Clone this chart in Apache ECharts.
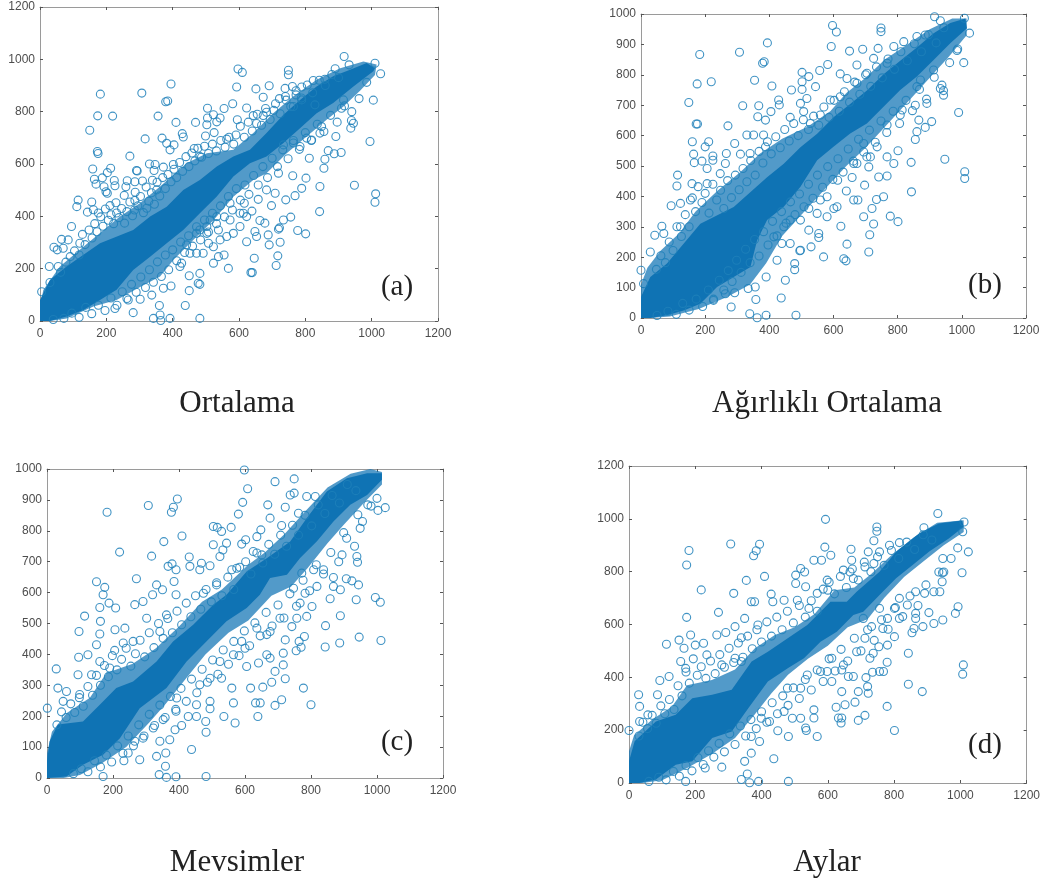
<!DOCTYPE html>
<html><head><meta charset="utf-8">
<style>html,body{margin:0;padding:0;background:#fff}#c{width:1043px;height:883px}#c canvas{filter:blur(0.4px)}</style>
<script src="https://cdn.jsdelivr.net/npm/echarts@6/dist/echarts.min.js"></script>
</head><body><div id="c"></div>
<script>
const captions = ["Ortalama","Ağırlıklı Ortalama","Mevsimler","Aylar"];
const letters = ["(a)","(b)","(c)","(d)"];
const xTicksMax = 1200, xStep = 200;
const yMaxes = [1200,1000,1000,1200];
const ySteps = [200,100,100,200];

const pointsA = [[182,867],[307,871],[395,906],[379,838],[385,841],[597,963],[610,950],[749,958],[749,941],[890,964],[917,1011],[932,979],[1010,985],[1027,945],[593,894],[651,887],[691,899],[739,889],[174,784],[219,783],[356,783],[410,759],[469,759],[150,729],[317,696],[368,699],[429,716],[432,703],[173,648],[175,640],[271,630],[159,581],[213,584],[203,567],[291,575],[293,573],[164,542],[188,547],[224,537],[169,523],[226,517],[193,513],[199,494],[203,488],[263,536],[286,532],[309,535],[339,538],[259,513],[115,462],[111,437],[156,455],[161,425],[176,413],[143,416],[211,441],[231,413],[254,480],[286,461],[285,424],[322,431],[352,501],[330,600],[347,598],[372,588],[402,598],[344,575],[382,679],[392,654],[404,673],[465,659],[482,628],[505,813],[505,776],[503,750],[523,788],[533,761],[555,812],[581,830],[623,814],[543,776],[499,707],[525,720],[563,695],[595,769],[591,711],[643,785],[653,755],[673,785],[673,855],[683,798],[705,805],[722,850],[742,844],[761,896],[789,894],[824,919],[859,924],[772,864],[789,845],[764,820],[95,361],[65,312],[42,282],[52,272],[70,278],[30,147],[5,112],[28,208],[55,208],[85,310],[120,297],
[1005,844],[939,766],[945,756],[937,737],[995,686],[892,705],[908,644],[887,639],[859,618],[856,584],[869,651],[948,519],[844,514],[1012,486],[1010,454],[843,418],[756,397],[777,346],[801,333],[734,386],[722,356],[678,374],[663,384],[639,420],[616,450],[658,465],[683,501],[709,488],[741,463],[769,479],[789,507],[802,546],[762,555],[719,565],[698,441],[688,329],[691,291],[724,301],[623,303],[646,240],[717,249],[712,212],[636,185],[640,185],[568,201],[555,252],[523,221],[538,246],[482,182],[477,144],[482,140],[450,173],[450,116],[438,59],[482,10],[392,10],[342,10],[360,59],[362,23],[364,2],[281,32],[395,134],[372,125],[337,99],[302,83],[266,80],[226,48],[583,335],[563,323],[538,348],[543,310],[503,335],[472,259],[452,259],[427,221],[422,208],[492,259],[523,284],[508,297],[603,361],[648,342],[653,323],[719,351],[442,291],[472,335],[513,386],[533,399],[573,386],[603,412],[623,399],[573,450],[613,412],[503,361],[482,348],[829,826],[849,743],[804,699],[819,692],[784,667],[812,622],[734,673],[764,680],[844,718],[909,813],[915,845]];

const pointsB = [[183,867],[307,874],[394,905],[379,838],[384,843],[597,962],[609,941],[748,954],[748,942],[593,893],[650,878],[691,884],[739,887],[886,931],[915,991],[933,978],[1008,986],[1024,937],[1006,840],[987,885],[175,770],[219,777],[354,782],[408,763],[469,750],[502,752],[502,808],[502,777],[523,794],[544,761],[557,814],[582,834],[621,803],[149,709],[317,698],[367,698],[429,717],[431,701],[172,638],[176,638],[271,632],[160,580],[211,580],[292,574],[200,563],[164,539],[166,511],[224,533],[224,519],[190,516],[206,492],[266,541],[263,508],[310,539],[340,541],[114,470],[112,434],[159,442],[206,442],[247,475],[94,369],[65,302],[43,272],[71,278],[123,300],[29,217],[0,157],[8,113],[123,377],[154,388],[330,602],[351,602],[382,602],[388,563],[364,662],[388,651],[405,679],[465,660],[517,722],[528,640],[559,668],[497,706],[507,679],[590,717],[621,728],[642,788],[673,832],[673,772],[704,805],[725,854],[767,838],[788,893],[819,909],[860,926],
[943,733],[933,755],[943,748],[990,676],[891,706],[906,646],[886,627],[860,613],[855,587],[866,651],[947,522],[842,512],[1009,481],[1009,459],[843,415],[756,399],[777,335],[801,317],[734,390],[720,360],[676,388],[663,388],[640,418],[613,453],[658,462],[673,508],[710,497],[741,464],[767,467],[788,508],[801,550],[767,530],[715,530],[697,437],[694,333],[713,274],[725,309],[623,302],[642,243],[710,217],[632,195],[639,188],[569,201],[554,265],[530,234],[495,221],[479,179],[479,159],[450,124],[437,66],[483,9],[390,9],[339,14],[358,61],[362,1],[281,36],[390,135],[356,102],[334,97],[292,83],[263,80],[226,58],[601,360],[580,333],[554,278],[523,289],[497,223],[465,245],[439,245],[424,190],[414,267],[445,300],[465,322],[497,322],[523,360],[549,344],[580,399],[559,388],[611,366],[855,700],[814,684],[808,668],[767,635],[736,563],[694,574],[663,508],[704,530],[860,761],[912,816],[871,783]];

const pointsC = [[598,997],[608,936],[691,959],[749,968],[593,892],[669,884],[580,854],[383,876],[395,903],[377,860],[307,882],[182,860],[354,765],[409,783],[220,731],[317,718],[150,635],[175,617],[170,593],[271,645],[504,814],[504,755],[516,811],[529,798],[558,811],[544,760],[524,717],[533,738],[431,715],[433,685],[367,685],[379,693],[391,674],[468,695],[463,674],[494,687],[560,674],[575,679],[602,771],[590,757],[636,781],[648,803],[676,841],[711,817],[722,876],[737,916],[749,922],[787,911],[813,911],[762,857],[625,733],[651,722],[332,625],[350,609],[320,593],[385,636],[391,593],[291,571],[266,561],[188,566],[160,552],[208,550],[162,507],[114,524],[97,474],[124,399],[96,391],[206,480],[236,485],[160,466],[150,431],[205,413],[231,437],[28,353],[33,291],[1,226],[59,280],[94,334],[135,334],[49,248],[99,270],[160,377],[190,356],[261,442],[302,517],[342,474],[362,528],[474,598],[514,625],
[1025,875],[1003,866],[972,884],[949,808],[942,852],[939,717],[941,698],[899,794],[894,722],[907,645],[924,638],[944,625],[937,577],[995,584],[1010,569],[889,525],[946,456],[1012,445],[887,437],[843,424],[844,493],[858,580],[868,620],[868,649],[889,609],[838,674],[808,674],[772,663],[747,614],[782,598],[818,620],[803,555],[767,566],[787,523],[757,517],[742,490],[780,458],[764,442],[770,423],[755,412],[722,447],[716,404],[716,366],[722,321],[691,345],[681,310],[777,291],[800,237],[711,253],[691,235],[639,199],[632,243],[646,243],[617,291],[654,294],[641,372],[666,399],[676,388],[570,178],[536,199],[565,243],[560,291],[529,323],[494,224],[481,183],[482,148],[438,92],[482,5],[391,4],[362,2],[340,11],[359,38],[281,59],[233,56],[170,5],[360,81],[332,70],[342,119],[372,124],[408,170],[388,156],[352,189],[391,216],[428,199],[453,199],[494,248],[463,302],[453,237],[393,259],[322,162],[291,129],[266,119],[246,81],[600,420],[590,442],[605,361],[565,399],[524,377],[494,323],[636,485],[666,464],[706,517],[676,474]];

const pointsD = [[181,880],[174,825],[307,905],[394,904],[384,879],[376,860],[593,998],[591,893],[609,862],[748,969],[748,953],[739,917],[670,885],[932,1020],[890,966],[1011,988],[1007,951],[1024,875],[1005,796],[947,850],[950,799],[935,799],[945,762],[938,724],[993,667],[985,642],[947,617],[920,604],[905,645],[887,592],[892,718],[865,724],[865,642],[865,623],[860,585],[854,569],[843,491],[1009,447],[1007,412],[885,346],[843,374],[779,290],[801,199],[779,457],[756,422],[768,422],[735,419],[715,399],[720,365],[722,340],[692,346],[677,403],[662,403],[642,346],[682,306],[652,296],[625,287],[642,246],[632,246],[640,227],[712,256],[692,237],[568,176],[558,277],[558,246],[533,208],[535,199],[481,176],[449,198],[424,233],[437,92],[481,6],[391,6],[364,1],[339,13],[357,34],[280,60],[230,57],[171,6],[349,82],[369,113],[394,157],[369,176],[399,245],[468,271],[493,245],[518,245],[518,359],[478,359],[538,409],[578,422],[598,422],[612,384],[612,472],[647,447],[642,428],[687,497],[712,548],[727,472],[737,491],[754,516],[780,522],[801,554],[766,585],[780,623],[816,623],[801,661],[840,674],[816,699],[756,661],[732,592],[707,623],
[174,627],[218,731],[354,767],[409,782],[316,718],[270,646],[113,525],[93,388],[121,403],[29,334],[32,290],[0,199],[32,233],[57,258],[86,334],[151,541],[186,560],[200,522],[225,529],[166,510],[156,460],[171,434],[235,485],[265,560],[292,570],[320,592],[339,550],[369,686],[379,686],[429,715],[434,686],[468,692],[508,692],[518,812],[503,787],[503,755],[530,799],[533,743],[558,843],[581,843],[568,718],[543,661],[598,768],[600,730],[647,806],[672,843],[667,799],[677,774],[712,818],[722,875],[739,831],[756,875],[786,900],[816,910],[320,472],[339,460],[280,447],[389,598],[349,623]];

const cloudA = [[62,186],[78,225],[91,246],[104,268],[118,252],[128,331],[136,292],[148,348],[157,317],[165,372],[172,341],[183,398],[190,362],[197,428],[206,385],[214,406],[222,372],[229,452],[238,395],[246,430],[255,374],[262,418],[271,455],[279,402],[287,492],[295,440],[303,476],[312,414],[320,512],[328,458],[336,490],[345,446],[353,530],[361,478],[370,548],[378,506],[386,560],[395,532],[404,580],[412,548],[421,606],[430,572],[440,628],[449,590],[458,642],[467,612],[476,660],[487,626],[496,668],[508,640],[520,676],[532,650],[545,690],[558,664],[570,702],[584,676],[604,744],[616,702],[628,760],[640,726],[655,790],[668,748],[680,812],[694,770],[710,830],[724,792],[740,858],[756,820],[772,880],[788,852],[806,902],[822,872],[842,920],[860,900],[880,942],[900,930],[40,6],[72,10],[96,30],[118,14],[138,52],[156,28],[176,60],[196,40],[214,88],[232,60],[248,112],[262,86],[276,140],[290,110],[304,168],[318,128],[330,196],[342,148],[354,226],[366,170],[378,252],[388,196],[400,272],[412,230],[424,302],[436,262],[448,326],[460,286],[472,360],[484,310],[496,386],[508,340],[520,412],[532,372],[544,440],[556,398],[568,476],[580,424],[592,506],[604,462],[618,520],[630,484],[644,556],[658,520],[672,590],[686,548],[700,622],[716,590],[732,654],[748,620],[764,690],[782,656],[800,720],[818,690],[836,752],[856,724],[876,786],[896,760],[918,822],[940,800],[962,850],[985,912]];
const cloudB = [[48,160],[62,205],[76,182],[88,250],[100,222],[112,300],[126,268],[138,340],[150,300],[160,395],[170,350],[178,432],[190,380],[200,410],[212,345],[224,440],[236,388],[248,420],[258,360],[270,452],[282,396],[294,470],[306,422],[318,492],[330,448],[342,518],[356,470],[368,548],[380,510],[394,580],[406,540],[420,596],[434,560],[448,620],[462,582],[476,640],[490,600],[506,652],[522,620],[538,664],[554,634],[570,694],[586,660],[602,716],[618,680],[634,744],[650,710],[666,776],[682,736],[700,800],[716,762],[734,826],[752,790],[770,852],[790,818],[810,876],[830,846],[852,902],[874,876],[896,932],[920,905],[944,955],[50,8],[84,22],[110,12],[130,48],[150,26],[172,62],[192,38],[210,92],[226,62],[244,124],[258,92],[272,156],[284,120],[298,190],[312,150],[326,226],[340,182],[354,258],[368,204],[382,284],[396,240],[410,318],[424,270],[438,350],[452,312],[466,382],[480,340],[494,408],[508,366],[522,440],[536,394],[550,470],[566,430],[582,498],[598,456],[614,524],[630,480],[646,556],[662,516],[678,588],[694,546],[712,618],[730,578],[748,648],[766,610],[786,680],[806,640],[826,716],[846,682],[868,752],[890,720],[914,792],[938,766],[962,840],[985,880]];
const cloudC = [[30,172],[44,214],[58,196],[72,240],[84,212],[98,260],[110,232],[124,296],[138,268],[150,332],[162,300],[174,364],[186,328],[198,396],[212,350],[226,384],[240,420],[254,362],[268,402],[282,446],[296,392],[310,470],[324,422],[338,500],[352,452],[366,516],[380,470],[394,540],[408,496],[422,566],[436,522],[450,590],[466,546],[482,610],[498,570],[514,632],[530,590],[548,650],[566,610],[584,682],[602,700],[618,660],[636,728],[654,696],[672,756],[690,724],[708,786],[726,750],[744,818],[762,786],[782,850],[802,816],[822,884],[842,856],[864,914],[886,890],[910,950],[936,930],[80,14],[104,30],[124,20],[144,56],[162,36],[180,74],[196,52],[214,104],[230,80],[246,136],[262,104],[278,172],[294,136],[310,206],[326,170],[342,236],[358,196],[374,264],[390,222],[406,290],[422,248],[438,320],[454,276],[470,352],[486,310],[502,382],[518,336],[534,414],[550,368],[566,442],[582,396],[598,476],[614,428],[630,502],[646,460],[664,536],[682,492],[700,560],[718,518],[736,596],[756,556],[776,640],[796,606],[816,690],[838,660],[860,730],[884,700],[908,776],[932,750],[956,830],[982,880],[1000,905]];
const cloudD = [[30,178],[42,230],[56,206],[70,256],[82,226],[96,292],[108,262],[122,316],[136,278],[148,368],[160,330],[172,420],[182,378],[194,470],[206,408],[218,440],[232,396],[246,462],[260,414],[274,486],[288,438],[302,510],[316,456],[330,530],[344,476],[358,556],[372,508],[386,580],[400,534],[416,610],[430,556],[446,628],[462,580],[478,650],[496,606],[514,672],[532,628],[550,690],[568,650],[586,734],[604,760],[620,716],[638,782],[656,740],[674,810],[692,768],[710,836],[730,800],[750,856],[770,824],[792,880],[814,850],[838,912],[862,884],[888,940],[914,920],[60,6],[90,22],[112,12],[134,44],[152,26],[172,66],[190,46],[208,96],[224,70],[240,122],[256,98],[272,150],[288,118],[304,186],[320,146],[336,216],[352,178],[368,240],[384,206],[400,270],[416,230],[432,304],[448,262],[464,330],[480,294],[496,360],[514,320],[532,392],[550,352],[568,428],[586,384],[604,470],[622,424],[640,506],[660,462],[680,548],[700,500],[720,580],[740,540],[762,618],[782,582],[804,664],[826,630],[848,708],[872,672],[896,750],[920,724],[946,796],[972,850],[992,890]];

const denseA = [[0,0],[0,80],[30,157],[80,208],[181,297],[281,348],[332,399],[382,437],[432,501],[482,539],[533,590],[583,629],[633,654],[683,718],[734,788],[784,845],[834,896],[884,935],[935,960],[985,986],[1010,966],[1005,954],[945,896],[884,833],[834,794],[784,737],[734,680],[683,629],[633,603],[583,552],[533,476],[482,412],[432,348],[382,297],[332,246],[281,195],[231,119],[181,80],[131,42],[80,17],[30,0]];
const denseB = [[0,0],[0,69],[29,135],[81,179],[185,310],[289,365],[393,463],[445,507],[497,562],[549,606],[601,661],[653,705],[705,749],[757,803],[809,847],[861,891],[912,937],[964,970],[1011,985],[1016,953],[964,904],[912,849],[860,794],[808,750],[756,695],[704,640],[652,607],[600,563],[549,519],[497,432],[445,366],[393,322],[362,256],[341,168],[237,102],[185,47],[133,25],[81,9],[29,0]];
const denseC = [[0,0],[0,54],[8,119],[33,173],[109,183],[160,237],[210,291],[261,312],[332,377],[382,442],[443,496],[504,561],[544,593],[605,668],[666,711],[737,765],[787,841],[848,927],[909,970],[970,986],[1015,986],[1015,965],[970,916],[919,884],[868,830],[818,766],[767,712],[727,658],[676,647],[645,593],[605,550],[544,507],[483,442],[423,377],[362,291],[281,226],[221,129],[170,75],[109,43],[59,5]];
const denseD = [[0,0],[0,82],[17,158],[81,233],[141,258],[191,321],[251,334],[310,353],[370,460],[419,497],[479,548],[538,598],[608,686],[657,686],[687,724],[756,800],[806,875],[876,945],[935,982],[1005,994],[1010,970],[965,926],[906,876],[856,825],[806,775],[756,712],[707,648],[677,636],[627,573],[578,535],[528,472],[479,434],[419,384],[360,283],[310,195],[251,170],[191,82],[141,69],[81,13],[32,0]];

const haloA = [[0,0],[0,55],[10,118],[60,208],[120,272],[181,336],[241,399],[301,450],[362,514],[442,603],[503,641],[583,654],[643,718],[704,795],[764,859],[834,922],[905,966],[975,992],[1015,980],[1010,940],[965,880],[915,820],[864,769],[804,705],[744,641],[683,565],[643,539],[583,475],[523,385],[462,310],[402,233],[362,170],[302,130],[231,80],[161,55],[80,10],[30,0]];
const haloB = [[0,0],[0,110],[20,165],[60,220],[120,280],[170,350],[240,420],[310,480],[370,540],[440,590],[520,630],[590,680],[640,740],[700,790],[760,850],[830,900],[900,950],[970,985],[1015,985],[1015,930],[960,860],[900,790],[840,720],[770,640],[700,560],[640,500],[570,420],[500,340],[440,270],[390,180],[340,110],[270,70],[180,30],[90,5],[30,0]];
const haloC = [[0,0],[0,80],[15,150],[60,210],[130,260],[180,340],[260,370],[330,420],[400,490],[470,570],[530,610],[610,690],[660,730],[720,790],[780,860],[850,940],[920,985],[980,1000],[1015,990],[1015,950],[960,890],[900,820],[850,760],[790,680],[740,620],[680,590],[610,510],[550,470],[480,400],[420,320],[360,240],[310,180],[240,100],[170,50],[100,10],[50,0]];
const haloD = [[0,0],[0,120],[15,180],[70,240],[130,290],[175,370],[250,390],[320,430],[380,510],[440,560],[500,590],[560,640],[620,730],[680,740],[730,790],[790,860],[860,930],[930,985],[1010,995],[1010,950],[950,900],[890,840],[830,780],[770,700],[720,620],[660,590],[600,520],[540,470],[480,410],[430,340],[380,260],[320,170],[250,110],[180,60],[100,10],[40,0]];

const allPoints = [pointsA,pointsB,pointsC,pointsD];
const allCloud = [cloudA,cloudB,cloudC,cloudD];
const allDense = [denseA,denseB,denseC,denseD];
const allHalo = [haloA,haloB,haloC,haloD];

const grids = [
 {left:40,top:7,width:398,height:314},
 {left:641,top:14,width:385,height:304},
 {left:47,top:469,width:396,height:309},
 {left:629,top:466,width:403,height:317}];
const captionPos = [[237,388],[827,388],[237,847],[827,847]];
const letterPos = [[397,273],[985,271],[397,728],[985,731]];

const AXIS='#9a9a9a', TEXT='#4d4d4d', BLUE='#0f73b4', RING='#1f80ba';
function axisCommon(extra){return Object.assign({type:'value',splitLine:{show:false},
  axisLine:{show:true,onZero:false,lineStyle:{color:AXIS,width:1}},
  axisTick:{show:true,inside:true,length:3,lineStyle:{color:'#555'}}},extra);}
const xAxis=[],yAxis=[],series=[],title=[];
grids.forEach((g,i)=>{
  const lab={color:TEXT,fontFamily:'Liberation Sans',fontSize:12,formatter:v=>String(v)};
  xAxis.push(axisCommon({gridIndex:i,min:0,max:xTicksMax,interval:xStep,position:'bottom',axisLabel:Object.assign({margin:7},lab)}));
  yAxis.push(axisCommon({gridIndex:i,min:0,max:yMaxes[i],interval:ySteps[i],position:'left',axisLabel:Object.assign({margin:5},lab)}));
  xAxis.push(axisCommon({gridIndex:i,min:0,max:xTicksMax,interval:xStep,position:'top',axisLabel:{show:false}}));
  yAxis.push(axisCommon({gridIndex:i,min:0,max:yMaxes[i],interval:ySteps[i],position:'right',axisLabel:{show:false}}));
  const xi=i*2, yi=i*2;
  const poly=(d,op,name)=>({type:'custom',name,xAxisIndex:xi,yAxisIndex:yi,data:d,silent:true,
    encode:{x:0,y:1},clip:true,
    renderItem:(p,api)=>{ if(p.dataIndex!==0) return null;
      return {type:'polygon',shape:{points:d.map(v=>api.coord(v))},style:{fill:BLUE,opacity:op}}; }});
  series.push(poly(allHalo[i],0.72,'halo'+i));
  series.push(poly(allDense[i],1,'dense'+i));
  series.push({type:'scatter',xAxisIndex:xi,yAxisIndex:yi,data:allCloud[i].concat(allPoints[i]),symbol:'circle',symbolSize:8,silent:true,
    itemStyle:{color:'rgba(0,0,0,0)',borderColor:RING,borderWidth:1.1,opacity:0.85}});
  title.push({text:captions[i],left:captionPos[i][0],top:captionPos[i][1],textAlign:'center',
    textStyle:{fontFamily:'Liberation Serif',fontWeight:'normal',fontSize:31,color:'#222'},padding:0});
  title.push({text:letters[i],left:letterPos[i][0],top:letterPos[i][1],textAlign:'center',
    textStyle:{fontFamily:'Liberation Serif',fontWeight:'normal',fontSize:29,color:'#222'},padding:0});
});
const chart=echarts.init(document.getElementById('c'),null,{renderer:'canvas'});
chart.setOption({animation:false,backgroundColor:'#fff',title,grid:grids.map(g=>Object.assign({containLabel:false},g)),xAxis,yAxis,series});
</script></body></html>
